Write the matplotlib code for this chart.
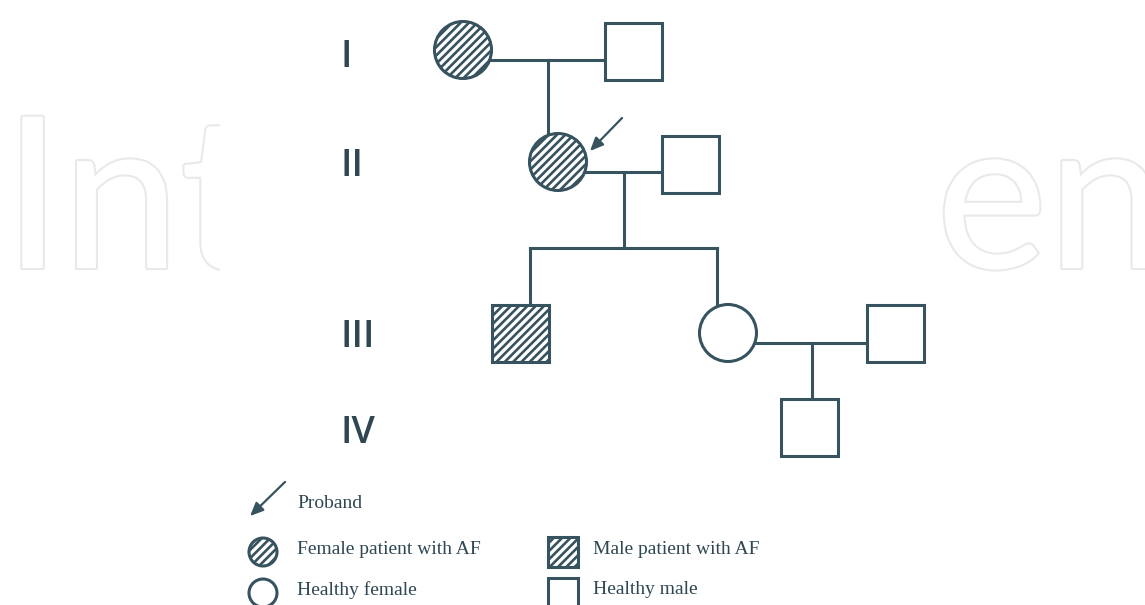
import matplotlib
matplotlib.use("Agg")
import matplotlib.pyplot as plt
from matplotlib.patches import Circle, Rectangle
import matplotlib.patheffects as pe

plt.rcParams['hatch.linewidth'] = 1.9

# generations
gen_labels = ['I', 'II', 'III', 'IV']
gen_y = [57, 166, 337, 433]

# individuals of the pedigree
ids = ['I-1', 'I-2', 'II-1', 'II-2', 'III-1', 'III-2', 'III-3', 'IV-1']
sex = ['F', 'M', 'F', 'M', 'M', 'F', 'M', 'M']
affected = [1, 0, 1, 0, 1, 0, 0, 0]
px = [463, 633, 558, 690, 520, 728, 895, 809]
py = [50, 51, 162, 164, 333, 333, 333, 427]

# couples -> children
couples = [('I-1', 'I-2'), ('II-1', 'II-2'), ('III-2', 'III-3')]
children = [['II-1'], ['III-1', 'III-2'], ['IV-1']]
proband = 'II-1'

legend_items = ['Female patient with AF', 'Male patient with AF',
                'Healthy female', 'Healthy male']

col = '#37535f'
lw = 2.2
half = 28.5
rad = 28.5

fig = plt.figure(figsize=(11.45, 6.05), dpi=100)
ax = fig.add_axes([0, 0, 1, 1])
ax.set_xlim(0, 1145)
ax.set_ylim(605, 0)
ax.axis('off')

# watermark (IntechOpen, partly hidden behind the figure)
wm = dict(fontsize=152, family='Lato', color='white', va='baseline', ha='left', zorder=0,
          path_effects=[pe.withStroke(linewidth=3, foreground='#e9e9e9')])
ax.text(3, 268, 'Int', **wm)
ax.text(936, 268, 'en', **wm)
ax.add_patch(Rectangle((220, 0), 715, 605, facecolor='white', edgecolor='none', zorder=1))

pos = {i: (x, y) for i, x, y in zip(ids, px, py)}


def symbol(x, y, s, aff, r=rad, h=half):
    hatch = '////' if aff else None
    if s == 'F':
        p = Circle((x, y), r, facecolor='white', edgecolor=col, lw=lw, hatch=hatch, zorder=4)
    else:
        p = Rectangle((x - h, y - h), 2 * h, 2 * h, facecolor='white', edgecolor=col, lw=lw,
                      hatch=hatch, zorder=4)
    ax.add_patch(p)


for i, s, a in zip(ids, sex, affected):
    symbol(pos[i][0], pos[i][1], s, a)

# connecting lines
for (a, b), kids in zip(couples, children):
    ya = pos[a][1] + 10
    ax.plot([pos[a][0], pos[b][0]], [ya, ya], color=col, lw=lw, zorder=3)
    mx = (pos[a][0] + rad + pos[b][0] - half) / 2
    if len(kids) == 1:
        ax.plot([mx, mx], [ya, pos[kids[0]][1] - rad], color=col, lw=lw, zorder=3)
    else:
        sy = ya + 76
        kxs = [pos[kids[0]][0] + 10, pos[kids[1]][0] - 11]
        ax.plot([mx, mx], [ya, sy], color=col, lw=lw, zorder=3)
        ax.plot(kxs, [sy, sy], color=col, lw=lw, zorder=3)
        for kx, k in zip(kxs, kids):
            ax.plot([kx, kx], [sy, pos[k][1] - half], color=col, lw=lw, zorder=3)

# proband arrow
bx, by = pos[proband]
ax.annotate('', xy=(bx + 30, by - 9), xytext=(bx + 66, by - 46),
            arrowprops=dict(arrowstyle='-|>,head_length=0.8,head_width=0.35', color=col, lw=1.6),
            zorder=5)

# generation labels
for g, y in zip(gen_labels, gen_y):
    ax.text(341, y, g, fontsize=27, family='Open Sans', fontweight='semibold',
            color='#2e4753', ha='left', va='center')

# legend
tkw = dict(fontsize=14, family='Liberation Serif', color='#2e4753', ha='left', va='center')
ax.annotate('', xy=(248, 518), xytext=(287, 480),
            arrowprops=dict(arrowstyle='-|>,head_length=0.8,head_width=0.35', color=col, lw=1.6))
ax.text(297, 503, 'Proband', **tkw)

lx = [263, 563, 263, 563]
ly = [552, 552, 593, 593]
ltx = [297, 593, 297, 593]
lsex = ['F', 'M', 'F', 'M']
laff = [1, 1, 0, 0]
for x, y, tx, s, a, lab in zip(lx, ly, ltx, lsex, laff, legend_items):
    symbol(x, y, s, a, r=14, h=15)
    ax.text(tx, y - 3, lab, **tkw)

fig.savefig('out.png', dpi=100)
